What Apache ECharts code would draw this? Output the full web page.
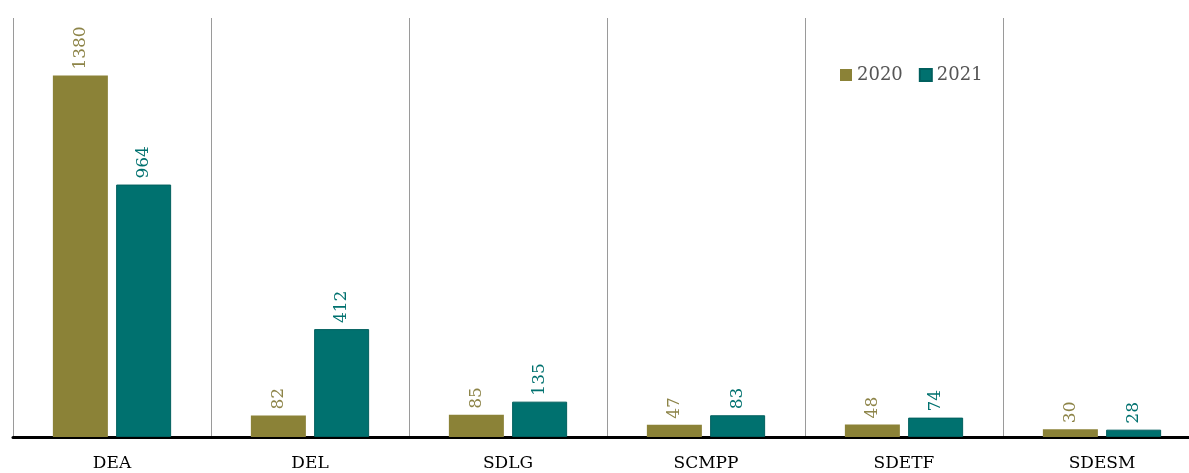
<!DOCTYPE html>
<html><head><meta charset="utf-8">
<script src="https://cdn.jsdelivr.net/npm/echarts@6/dist/echarts.min.js"></script>
<style>html,body{margin:0;padding:0;background:#fff;overflow:hidden}#c{width:1201px;height:473px}</style>
</head><body><div id="c"></div>
<script>
const categories = ['DEA','DEL','SDLG','SCMPP','SDETF','SDESM'];
const values2020 = [1380, 82, 85, 47, 48, 30];
const values2021 = [964, 412, 135, 83, 74, 28];
const seriesNames = ['2020','2021'];
const font = '"DejaVu Serif", "Liberation Serif", serif';
const c1 = '#8b8237', c2 = '#00716f';
const chart = echarts.init(document.getElementById('c'));
chart.setOption({
  animation:false,
  grid:{left:13, right:0, top:18, bottom:36},
  legend:{
    data:seriesNames, left:835, top:61, itemWidth:12, itemHeight:12, itemGap:16,
    icon:'rect', textStyle:{fontFamily:font, fontSize:18, color:'#555'}
  },
  xAxis:{
    type:'category', data:categories,
    axisLine:{lineStyle:{color:'#000', width:3}},
    axisTick:{show:false},
    axisLabel:{fontFamily:font, fontSize:17, color:'#000', margin:18},
    splitLine:{show:true, lineStyle:{color:'#9a9a9a', width:1}}
  },
  yAxis:{type:'value', min:0, max:1600, show:false, splitLine:{show:false}},
  series:[
    {name:seriesNames[0], type:'bar', data:values2020, barWidth:55, barGap:'15%',
     itemStyle:{color:c1},
     label:{show:true, position:'top', rotate:90, align:'left', verticalAlign:'middle', distance:6,
            fontFamily:font, fontSize:17, color:'#8d8448'}},
    {name:seriesNames[1], type:'bar', data:values2021, barWidth:55,
     itemStyle:{color:c2, borderColor:'#005f5e', borderWidth:1},
     label:{show:true, position:'top', rotate:90, align:'left', verticalAlign:'middle', distance:6,
            fontFamily:font, fontSize:17, color:c2}}
  ]
});
</script></body></html>
